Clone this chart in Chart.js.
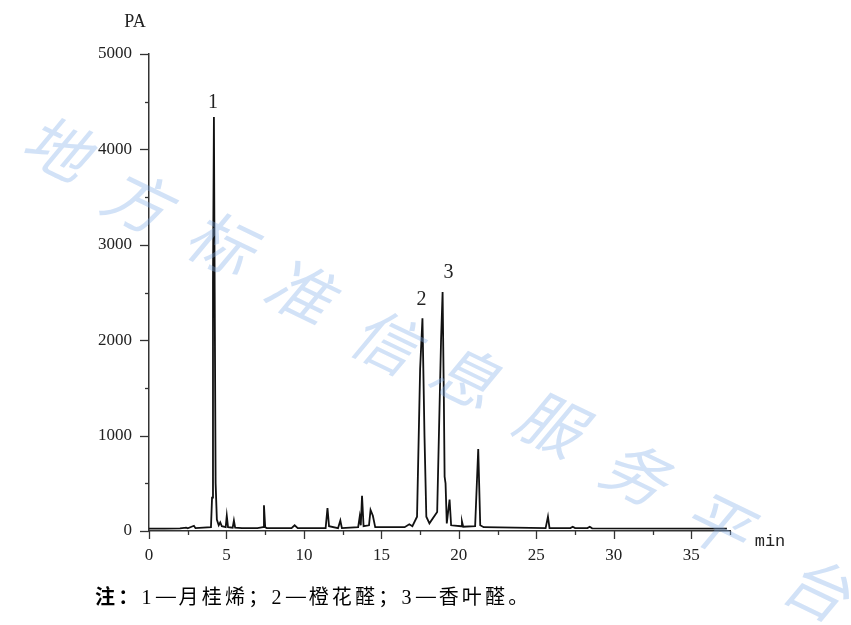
<!DOCTYPE html>
<html><head><meta charset="utf-8">
<script src="https://cdn.jsdelivr.net/npm/chart.js@4/dist/chart.umd.min.js"></script>
<style>
html,body{margin:0;padding:0;background:#fff;}
#wrap{position:relative;width:851px;height:625px;overflow:hidden;}
#c{position:absolute;left:0;top:0;}
#cap{position:absolute;left:95px;top:584px;font:20px "Liberation Serif","Noto Sans CJK SC";color:#000;white-space:nowrap;line-height:24px;letter-spacing:3.2px;}
#cap b{font-family:"Noto Sans CJK SC";}
.cj{font-family:"Noto Sans CJK SC";}
.d{display:inline-block;width:18px;text-align:center;transform:scaleX(1.25);letter-spacing:0;margin:0 4px 0 2px;position:relative;top:-1px;}
</style></head><body>
<div id="wrap"><canvas id="c" width="851" height="625"></canvas>
<div id="cap"><b>注：</b>1<span class="cj"><span class="d">—</span>月桂烯；</span>2<span class="cj"><span class="d">—</span>橙花醛；</span>3<span class="cj"><span class="d">—</span>香叶醛。</span></div></div>
<script>
// retention time (min)
const times = [0.0,1.0,2.0,2.4,2.5,2.9,3.0,3.5,4.0,4.07,4.13,4.19,4.24,4.30,4.38,4.5,4.6,4.7,4.95,5.02,5.1,5.4,5.48,5.56,6.0,7.0,7.36,7.42,7.5,7.6,9.2,9.4,9.6,11.4,11.52,11.62,12.2,12.35,12.45,13.5,13.6,13.67,13.75,13.85,14.2,14.3,14.45,14.6,16.5,16.8,17.0,17.3,17.5,17.65,17.78,17.9,18.1,18.6,18.85,18.95,19.03,19.08,19.14,19.22,19.4,19.5,20.15,20.2,20.28,21.05,21.25,21.38,21.6,25.6,25.75,25.85,27.2,27.35,27.5,28.3,28.45,28.6,37.3];
// detector signal (pA)
const signal = [25,25,28,35,28,55,30,35,40,350,2600,4340,2500,500,120,60,90,50,40,160,40,35,110,35,30,30,40,270,40,30,30,60,30,30,240,50,30,110,30,40,150,60,370,50,60,220,160,40,40,70,50,150,1700,2230,1000,150,80,200,2000,2505,1400,570,500,80,330,60,50,100,45,50,860,60,40,30,150,30,30,45,30,30,45,28,25];
const peakLabels = ['1','2','3'];
const peakTimes = [4.19,17.65,18.95];
const peakHeights = [4340,2230,2505];
const xTickValues = [0,5,10,15,20,25,30,35];
const yTickValues = [0,1000,2000,3000,4000,5000];
const yAxisTitle = 'PA';
const xAxisTitle = 'min';
const watermark = ['地','方','标','准','信','息','服','务','平','台'];

const pts = times.map((t,i)=>({x:t,y:signal[i]}));

const deco = {
  id:'deco',
  afterDraw(chart){
    const ctx=chart.ctx, xs=chart.scales.x, ys=chart.scales.y;
    ctx.save();
    ctx.strokeStyle='#333'; ctx.lineWidth=1.3;
    for(let v=0; v<=37.5+1e-6; v+=2.5){
      const px=Math.round(xs.getPixelForValue(v))+0.5;
      const major = xTickValues.includes(v);
      ctx.beginPath(); ctx.moveTo(px,ys.bottom); ctx.lineTo(px,ys.bottom+(major?8:4)); ctx.stroke();
    }
    for(let v=0; v<=5000; v+=500){
      const py=Math.round(ys.getPixelForValue(v))+0.5;
      const major = yTickValues.includes(v);
      ctx.beginPath(); ctx.moveTo(xs.left,py); ctx.lineTo(xs.left-(major?9:4),py); ctx.stroke();
    }
    ctx.fillStyle='#222';
    ctx.font='18px "Liberation Serif"';
    ctx.textAlign='center'; ctx.textBaseline='middle';
    ctx.fillText(yAxisTitle, 135, 22);
    ctx.font='17px "Liberation Mono"';
    ctx.fillText(xAxisTitle, 770, 541);
    ctx.font='20px "Liberation Serif"';
    const off=[[-1,-14],[-1,-19],[6,-19]];
    peakLabels.forEach((l,i)=>{
      const px=xs.getPixelForValue(peakTimes[i]), py=ys.getPixelForValue(peakHeights[i]);
      ctx.fillText(l, px+off[i][0], py+off[i][1]);
    });
    // watermark
    const pos=[[62,150],[142,203],[225,245],[305,293],[390,343],[470,378],[555,425],[640,475],[722,525],[822,590]];
    ctx.font='64px "Noto Sans CJK SC"';
    ctx.fillStyle='rgba(130,175,232,0.36)';
    watermark.forEach((ch,i)=>{
      ctx.save(); ctx.translate(pos[i][0],pos[i][1]); ctx.rotate(0.45); ctx.transform(1,0,-0.25,1,0,0);
      ctx.fillText(ch,0,0); ctx.restore();
    });
    ctx.restore();
  }
};

new Chart(document.getElementById('c'),{
  type:'line',
  data:{datasets:[{data:pts,borderColor:'#111',borderWidth:1.8,pointRadius:0,tension:0,fill:false}]},
  options:{
    responsive:false,animation:false,
    layout:{padding:{left:0,right:121,top:54,bottom:64}},
    plugins:{legend:{display:false},tooltip:{enabled:false}},
    scales:{
      x:{type:'linear',min:0,max:37.5,
        afterFit(s){s.height=30;},
        afterBuildTicks(s){s.ticks=xTickValues.map(v=>({value:v}));},
        grid:{display:true,drawOnChartArea:false,drawTicks:false},
        border:{display:true,color:'#333',width:1.5},
        ticks:{padding:14,color:'#222',font:{family:'Liberation Serif',size:17},maxRotation:0,autoSkip:false,callback:v=>String(v)}
      },
      y:{type:'linear',min:0,max:5000,
        afterFit(s){s.width=149;},
        afterBuildTicks(s){s.ticks=yTickValues.map(v=>({value:v}));},
        grid:{display:true,drawOnChartArea:false,drawTicks:false},
        border:{display:true,color:'#333',width:1.5},
        ticks:{padding:17,color:'#222',font:{family:'Liberation Serif',size:17},callback:v=>String(v)}
      }
    }
  },
  plugins:[deco]
});
</script>
</body></html>
